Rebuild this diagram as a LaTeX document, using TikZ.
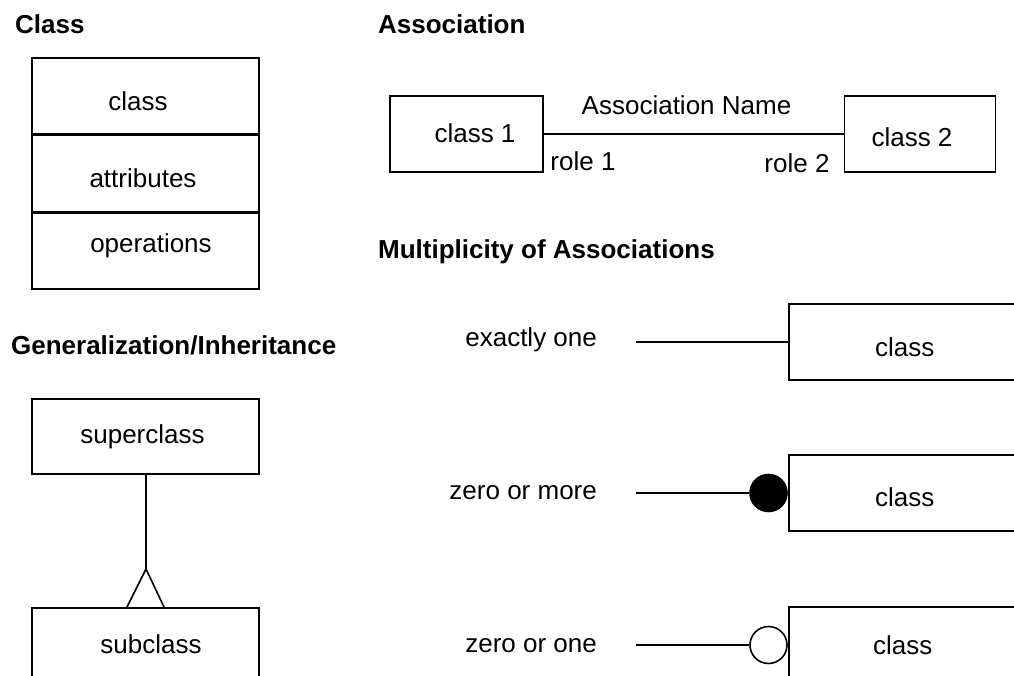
\documentclass[tikz,border=0pt]{standalone}
\usepackage{fontspec}
\setmainfont{Liberation Sans}
\usepackage{tikz}

\begin{document}
\begin{tikzpicture}[x=1pt, y=-1pt, line width=1.6pt,
    font=\fontsize{26}{31}\selectfont,
    box/.style={draw, rectangle, inner sep=0pt},
    title/.style={anchor=west, font=\fontsize{26}{31}\selectfont\bfseries},
    mult/.style={anchor=east}]
            \clip (0,0) rectangle (1014,676);

            % Titles
            \node[title] (tclass) at (11,24) {Class};
            \node[title] (tassoc) at (374,24) {Association};
            \node[title] (tmult) at (374,252) {Multiplicity of Associations};
            \node[title] (tgen) at (7,345) {Generalization/Inheritance};

            % Class box with three compartments
            \node[box, minimum width=227, minimum height=76,
                  label={[xshift=-7.5pt, yshift=-5.5pt]center:class}] (cname) at (145.5,96) {};
            \node[box, minimum width=227, minimum height=76, anchor=north,
                  label={[xshift=-2.5pt, yshift=-4.5pt]center:attributes}] (cattr) at (cname.south) {};
            \node[box, minimum width=227, minimum height=76, anchor=north,
                  label={[xshift=5.5pt, yshift=5.5pt]center:operations}] (cops) at (cattr.south) {};

            % Association between two classes
            \node[box, minimum width=153, minimum height=76,
                  label={[xshift=8.5pt, yshift=1pt]center:class 1}] (cone) at (466.5,134) {};
            \node[box, minimum width=151, minimum height=76,
                  label={[xshift=-8pt, yshift=-3pt]center:class 2}] (ctwo) at (920,134) {};
            \draw (cone.east) -- (ctwo.west);
            \node (aname) at (686.5,105) {Association Name};
            \node (rone) at (583,161) {role 1};
            \node (rtwo) at (797,163) {role 2};

            % Generalization
            \node[box, minimum width=227, minimum height=75,
                  label={[xshift=-3pt]center:superclass}] (super) at (145.5,436.5) {};
            \node[box, minimum width=227, minimum height=75, anchor=north,
                  label={[xshift=5.5pt, yshift=1pt]center:subclass}] (sub) at (145.5,607) {};
            \coordinate (apex) at (146,569);
            \draw (apex |- super.south) -- (apex);
            \draw (127,607) -- (apex) -- (164,607);

            % Multiplicity: exactly one
            \node[mult] (lone) at (601,340) {exactly one};
            \node[box, minimum width=242, minimum height=76, anchor=west,
                  label={[xshift=-5pt, yshift=-5pt]center:class}] (mone) at (788,342) {};
            \coordinate (sone) at (636,342);
            \draw (sone) -- (mone.west);

            % Multiplicity: zero or more
            \node[mult] (lmany) at (601,493) {zero or more};
            \node[box, minimum width=242, minimum height=76, anchor=west,
                  label={[xshift=-5pt, yshift=-4pt]center:class}] (mmany) at (788,493) {};
            \node[circle, fill, draw, minimum size=37, inner sep=0pt] (dmany) at (768.5,493) {};
            \coordinate (smany) at (636,493);
            \draw (smany) -- (dmany.west);

            % Multiplicity: zero or one
            \node[mult] (lopt) at (601,646) {zero or one};
            \node[box, minimum width=242, minimum height=76, anchor=west,
                  label={[xshift=-7pt]center:class}] (mopt) at (788,645) {};
            \node[circle, draw, fill=white, minimum size=37, inner sep=0pt] (dopt) at (768.5,645) {};
            \coordinate (sopt) at (636,645);
            \draw (sopt) -- (dopt.west);
\end{tikzpicture}
\end{document}
